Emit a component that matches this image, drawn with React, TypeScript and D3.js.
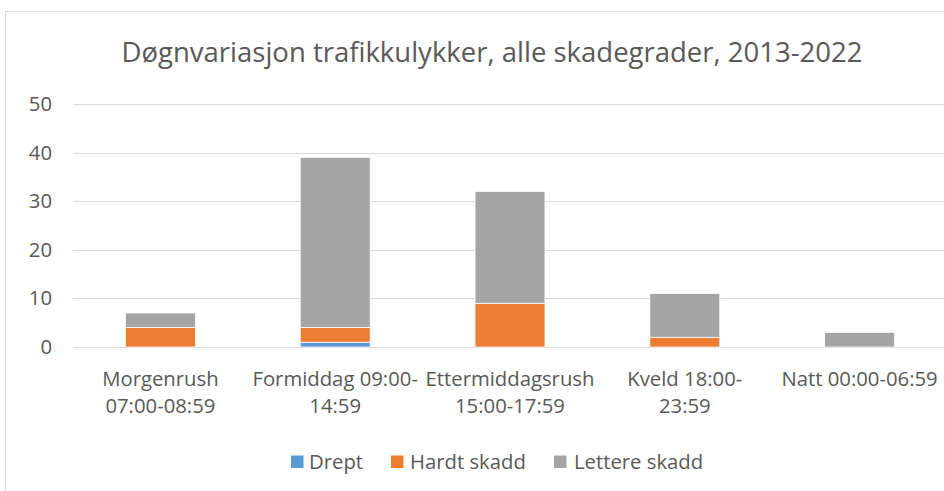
import React from "react";
import * as d3 from "d3";

const categories = [
  ["Morgenrush", "07:00-08:59"],
  ["Formiddag 09:00-", "14:59"],
  ["Ettermiddagsrush", "15:00-17:59"],
  ["Kveld 18:00-", "23:59"],
  ["Natt 00:00-06:59"],
];
const seriesNames = ["Drept", "Hardt skadd", "Lettere skadd"];
const drept = [0, 1, 0, 0, 0];
const hardtSkadd = [4, 3, 9, 2, 0];
const lettereSkadd = [3, 35, 23, 9, 3];
const yTicks = [0, 10, 20, 30, 40, 50];
const colors = ["#5B9BD5", "#ED7D31", "#A5A5A5"];

export default function App() {
  const W = 944, H = 491;
  const x = d3.scaleBand<number>().domain(categories.map((_, i) => i)).range([73, 947]).paddingInner(0.6).paddingOuter(0.3);
  const y = d3.scaleLinear().domain([0, 50]).range([347, 104]);
  const rows = categories.map((_, i) => ({ i, d: drept[i], h: hardtSkadd[i], l: lettereSkadd[i] }));
  const stack = d3.stack<any>().keys(["d", "h", "l"])(rows);
  const font = "'Open Sans', sans-serif";
  const legendX = [291, 391, 554];
  const legendTextX = [309, 410, 574];
  return (
    <svg width={W} height={H} style={{ position: "absolute", left: 0, top: 0, background: "#fff" }} fontFamily={font}>
      <rect x={5.5} y={11.5} width={1000} height={600} fill="#fff" stroke="#D9D9D9" />
      <text x={492} y={62} textAnchor="middle" fontSize={27.5} fill="#595959">
        Døgnvariasjon trafikkulykker, alle skadegrader, 2013-2022
      </text>
      {yTicks.map((t) => (
        <g key={t}>
          <line x1={73} x2={944} y1={Math.round(y(t)) + 0.5} y2={Math.round(y(t)) + 0.5} stroke="#D9D9D9" strokeWidth={1} />
          <text x={52} y={y(t) + 7} textAnchor="end" fontSize={20.3} fill="#595959">{t}</text>
        </g>
      ))}
      {stack.map((s, si) => (
        <g key={si} fill={colors[si]}>
          {s.map((seg, i) =>
            seg[1] - seg[0] > 0 ? (
              <rect key={i} x={x(i)!} width={x.bandwidth()} y={y(seg[1])} height={y(seg[0]) - y(seg[1])} stroke="#fff" strokeWidth={0.75} />
            ) : null
          )}
        </g>
      ))}
      {categories.map((lines, i) => (
        <text key={i} textAnchor="middle" fontSize={20.3} fill="#595959">
          {lines.map((ln, k) => (
            <tspan key={k} x={x(i)! + x.bandwidth() / 2} y={386 + k * 27}>{ln}</tspan>
          ))}
        </text>
      ))}
      {seriesNames.map((n, i) => (
        <g key={n}>
          <rect x={legendX[i]} y={455.5} width={12.5} height={12.5} fill={colors[i]} />
          <text x={legendTextX[i]} y={469} fontSize={20.3} fill="#595959">{n}</text>
        </g>
      ))}
    </svg>
  );
}
